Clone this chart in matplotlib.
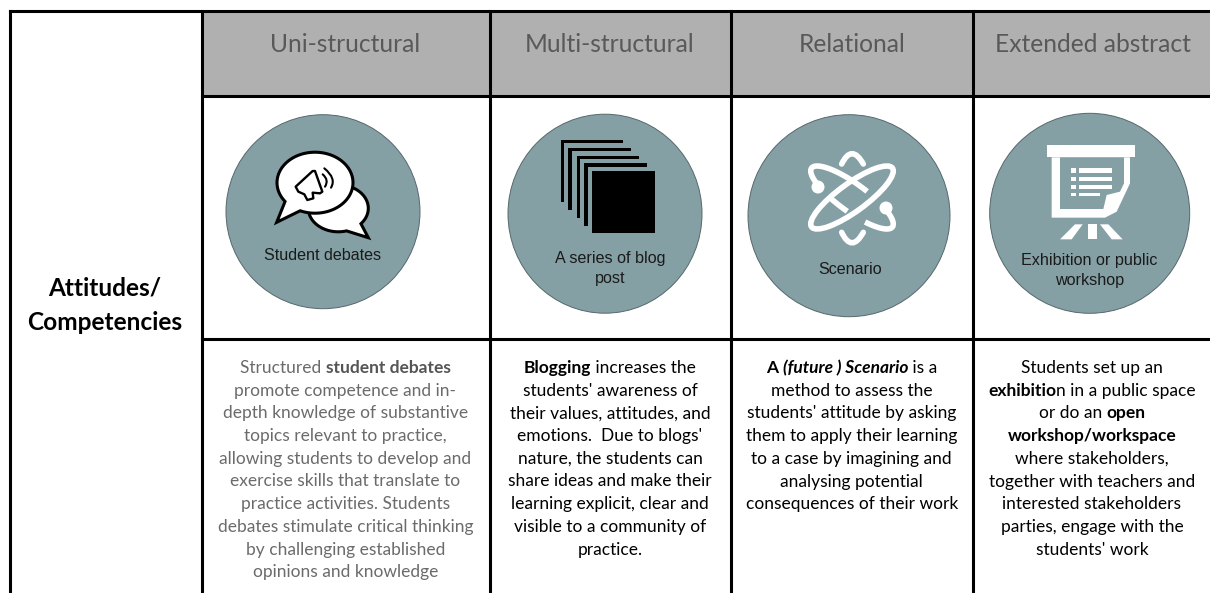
import matplotlib
matplotlib.use('Agg')
import matplotlib.pyplot as plt
import numpy as np
from matplotlib.patches import Circle, Ellipse, Polygon, Rectangle, PathPatch
from matplotlib.path import Path

# Table contents
row_label = ['Attitudes/', 'Competencies']
headers = ['Uni-structural', 'Multi-structural', 'Relational', 'Extended abstract']
circle_labels = [['Student debates'], ['A series of blog', 'post'], ['Scenario'],
                 ['Exhibition or public', 'workshop']]

# r = regular, b = bold, bi = bold italic
body_1 = [[('Structured ', 'r'), ('student debates', 'b')],
          [('promote competence and in-', 'r')],
          [('depth knowledge of substantive', 'r')],
          [('topics relevant to practice,', 'r')],
          [('allowing students to develop and', 'r')],
          [('exercise skills that translate to', 'r')],
          [('practice activities. Students', 'r')],
          [('debates stimulate critical thinking', 'r')],
          [('by challenging established', 'r')],
          [('opinions and knowledge', 'r')]]
body_2 = [[('Blogging', 'b'), (' increases the', 'r')],
          [("students' awareness of", 'r')],
          [('their values, attitudes, and', 'r')],
          [("emotions.  Due to blogs'", 'r')],
          [('nature, the students can', 'r')],
          [('share ideas and make their', 'r')],
          [('learning explicit, clear and', 'r')],
          [('visible to a community of', 'r')],
          [('practice.', 'r')]]
body_3 = [[('A ', 'b'), ('(future ) Scenario', 'bi'), (' is a', 'r')],
          [('method to assess the', 'r')],
          [("students' attitude by asking", 'r')],
          [('them to apply their learning', 'r')],
          [('to a case by imagining and', 'r')],
          [('analysing potential', 'r')],
          [('consequences of their work', 'r')]]
body_4 = [[('Students set up an', 'r')],
          [('exhibitio', 'b'), ('n in a public space', 'r')],
          [('or do an ', 'r'), ('open', 'b')],
          [('workshop/workspace', 'b')],
          [('where stakeholders,', 'r')],
          [('together with teachers and', 'r')],
          [('interested stakeholders', 'r')],
          [('parties, engage with the', 'r')],
          [("students' work", 'r')]]
bodies = [body_1, body_2, body_3, body_4]

# Layout in pixels
col_lines = [9.5, 202, 489.5, 731, 973]
header_x = [345, 610, 852, 1093]
body_x = [345.5, 610, 851.7, 1092]
body_colors = ['#6b6b6b', 'black', 'black', 'black']
circles = [(323, 211.7, 97, 97), (605, 213.7, 97, 99.5), (849, 215.7, 101, 101), (1089.7, 213.3, 100, 100)]
label_x = [322.5, 610, 850.5, 1089.5]
label_y = [256, 259, 269, 261]
teal = '#84a0a5'

fig = plt.figure(figsize=(12.10, 5.93), dpi=100)
ax = fig.add_axes([0, 0, 1, 1])
ax.set_xlim(0, 1210)
ax.set_ylim(593, 0)
ax.axis('off')

LW = 2.2
ax.add_patch(Rectangle((202, 11), 1008, 85, fc='#b0b0b0', ec='none', zorder=1))
ax.plot([9.5, 1210], [11, 11], 'k', lw=LW, zorder=3, solid_capstyle='projecting')
ax.plot([202, 1210], [96, 96], 'k', lw=LW, zorder=3)
ax.plot([202, 1210], [339, 339], 'k', lw=LW, zorder=3)
for x in col_lines:
    ax.plot([x, x], [11, 593], 'k', lw=LW, zorder=3)

for x, h in zip(header_x, headers):
    ax.text(x, 44, h, ha='center', va='center', color='#595959', fontsize=17.7,
            family=['Lato', 'DejaVu Sans'])

ax.text(105, 288, row_label[0], ha='center', va='center', fontsize=17.6, weight='bold',
        family=['Lato', 'DejaVu Sans'])
ax.text(105, 322, row_label[1], ha='center', va='center', fontsize=17.6, weight='bold',
        family=['Lato', 'DejaVu Sans'])

for (cx, cy, rx, ry), lines, lx, ly in zip(circles, circle_labels, label_x, label_y):
    ax.add_patch(Ellipse((cx, cy), 2 * rx, 2 * ry, fc=teal, ec='#56686b', lw=0.7, zorder=2))
    for i, s in enumerate(lines):
        ax.text(lx, ly + i * 19.5, s, ha='center', va='center', fontsize=11.6,
                color='#1a1a1a', family=['Liberation Sans'], zorder=5)


def zp(ox, oy, pts):
    # the zoomed crops were 3x, convert back to chart pixels
    return [(ox + a / 3, oy + b / 3) for a, b in pts]


def curve(ox, oy, pts, **kw):
    p = zp(ox, oy, pts)
    codes = [Path.MOVETO] + [Path.CURVE3] * (len(p) - 1)
    ax.add_patch(PathPatch(Path(p, codes), zorder=7, capstyle='round', **kw))


def bubble(cx, cy, rx, ry, a0, a1, tip, z):
    # ellipse outline with a tail between angles a0 and a1
    t = np.radians(np.linspace(a1, a0 + 360, 80))
    pts = list(zip(cx + rx * np.cos(t), cy + ry * np.sin(t))) + [tip]
    ax.add_patch(Polygon(pts, fc='white', ec='k', lw=2.2, zorder=z, joinstyle='miter'))


# Speech bubbles
bubble(338.3, 208.3, 30, 23.5, 41, 74, (368.3, 237.7), 6)
bubble(315, 182.7, 38, 30.5, 113, 142, (276.7, 222.3), 6.5)
ax.add_patch(Polygon(zp(270, 145, [(77, 125), (128, 78), (135, 78), (157, 140), (150, 145), (128, 143),
                                   (130, 160), (112, 165), (103, 148), (85, 140)]),
                     fc='white', ec='k', lw=1.7, zorder=7, joinstyle='round'))
curve(270, 145, [(158, 88), (178, 105), (165, 125)], fc='none', ec='k', lw=1.5)
curve(270, 145, [(163, 70), (200, 100), (183, 128)], fc='none', ec='k', lw=1.5)

# Stack of blog posts
for x0, y0, x1, y1 in [(1082, 120, 1270, 305), (1105, 143, 1293, 330),
                       (1130, 167, 1317, 353), (1152, 190, 1340, 378)]:
    a = (200 + x0 / 3, 100 + y0 / 3)
    ax.add_patch(Rectangle(a, (x1 - x0) / 3, 3.3, fc='k', ec='none', zorder=6))
    ax.add_patch(Rectangle(a, 3.5, (y1 - y0) / 3, fc='k', ec='none', zorder=6))
ax.add_patch(Rectangle((591.7, 170.7), 63.3, 62.7, fc='k', ec='none', zorder=6))

# Atom
acx, acy = 852, 197.5
ax.add_patch(Ellipse((acx, acy), 100, 28, angle=-36, fc='none', ec='white', lw=4, zorder=6))


def orbit(t0, t1):
    # arc of the second orbit, tilted the other way
    t = np.radians(np.linspace(t0, t1, 40))
    u = 50 * np.cos(t)
    v = 14 * np.sin(t)
    c, s = np.cos(np.radians(36)), np.sin(np.radians(36))
    ax.plot(acx + u * c - v * s, acy + u * s + v * c, color='white', lw=4, zorder=6,
            solid_capstyle='butt')


orbit(125, 280)
orbit(85, 112)
orbit(-47, 60)
atom_kw = dict(fc='none', ec='white', lw=4)
curve(730, 100, [(335, 192), (365, 130), (400, 192)], **atom_kw)
curve(730, 100, [(335, 397), (365, 460), (400, 397)], **atom_kw)
ax.add_patch(Circle((818, 187), 6.5, fc='white', ec='none', zorder=6))
ax.add_patch(Circle((886, 208), 6.5, fc='white', ec='none', zorder=6))

# Projector screen
ax.add_patch(Polygon(zp(1040, 140, [(22, 15), (285, 15), (285, 52), (22, 52)]), fc='white', ec='none', zorder=6))
ax.add_patch(Polygon(zp(1040, 140, [(35, 52), (270, 52), (270, 130), (230, 215), (195, 233), (35, 233)]),
                     fc='white', ec='none', zorder=6))
ax.add_patch(Polygon(zp(1040, 140, [(60, 52), (252, 52), (252, 130), (240, 155), (200, 165),
                                    (190, 207), (60, 207)]), fc=teal, ec='none', zorder=7))
for y0, y1, x_end in [(85, 98, 215), (110, 122, 215), (135, 147, 215), (158, 168, 180)]:
    ax.add_patch(Polygon(zp(1040, 140, [(118, y0), (x_end, y0), (x_end, y1), (118, y1)]),
                         fc='white', ec='none', zorder=8))
    ax.add_patch(Polygon(zp(1040, 140, [(93, y0), (107, y0), (107, y1), (93, y1)]),
                         fc='white', ec='none', zorder=8))
for leg in [[(60, 298), (105, 253), (128, 253), (95, 298)],
            [(145, 253), (170, 253), (170, 298), (145, 298)],
            [(180, 253), (205, 253), (248, 298), (215, 298)]]:
    ax.add_patch(Polygon(zp(1040, 140, leg), fc='white', ec='none', zorder=6))

# Body text, drawn one run at a time so bold and regular share a baseline
styles = {'r': dict(weight='normal', style='normal'),
          'b': dict(weight='bold', style='normal'),
          'bi': dict(weight='bold', style='italic')}
renderer = fig.canvas.get_renderer()
BODY_SIZE = 12.5


def run_width(s, st):
    t = ax.text(0, 0, s + '.', fontsize=BODY_SIZE, family=['Lato'], **styles[st])
    d = ax.text(0, 0, '.', fontsize=BODY_SIZE, family=['Lato'], **styles[st])
    w = t.get_window_extent(renderer).width - d.get_window_extent(renderer).width
    t.remove()
    d.remove()
    return w


for cx, lines, col in zip(body_x, bodies, body_colors):
    for i, runs in enumerate(lines):
        widths = [run_width(s, st) for s, st in runs]
        x = cx - sum(widths) / 2
        y = 373 + i * 22.7
        for (s, st), w in zip(runs, widths):
            c = col
            if col != 'black' and st == 'b':
                c = '#555555'
            ax.text(x, y, s, ha='left', va='baseline', fontsize=BODY_SIZE, color=c,
                    family=['Lato'], **styles[st])
            x += w

fig.savefig('out.png', dpi=100)
